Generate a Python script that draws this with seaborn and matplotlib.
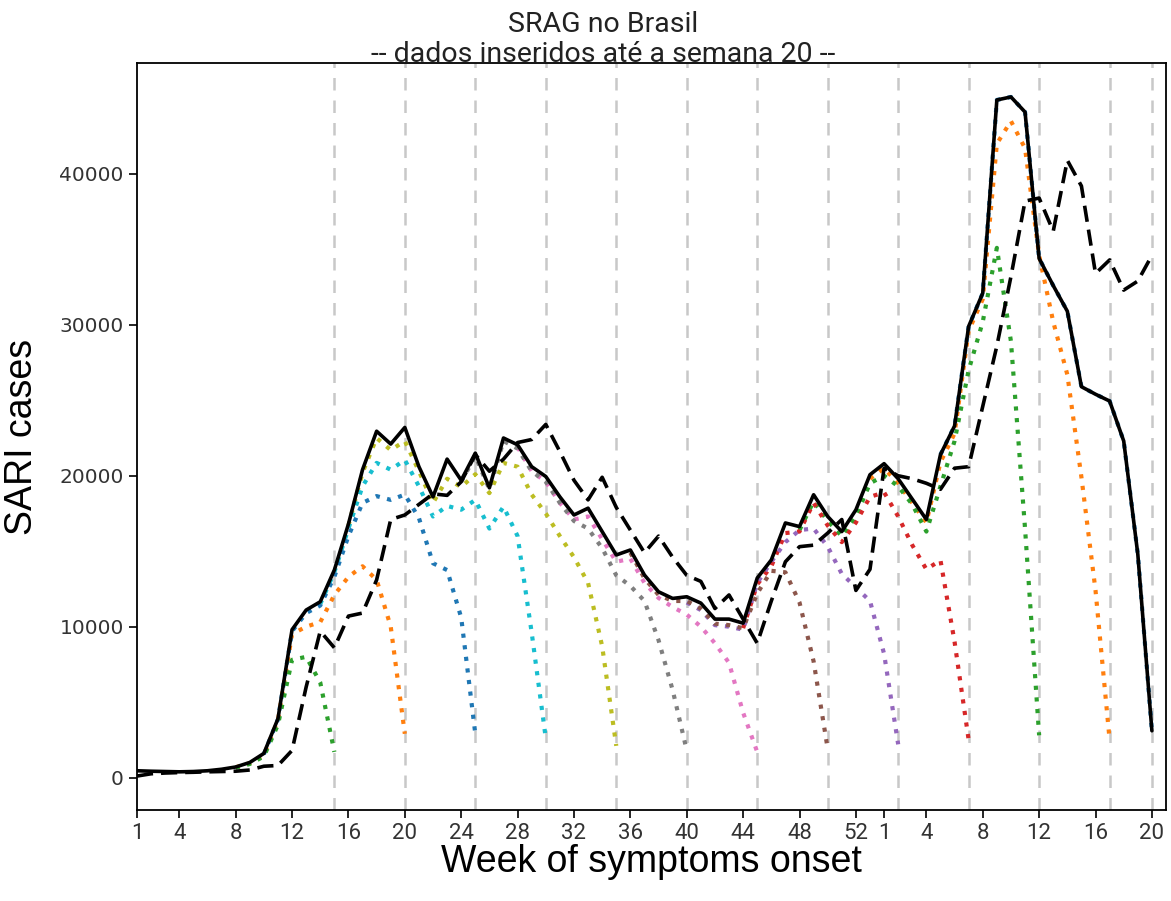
import matplotlib
matplotlib.use("Agg")
import matplotlib.pyplot as plt
import seaborn as sns
import pandas as pd
import numpy as np

# Epidemiological weeks: 2020 (weeks 1-53) followed by 2021 (weeks 1-20)
weeks_2020 = list(range(1, 54))
weeks_2021 = list(range(1, 21))
week_index = list(range(1, len(weeks_2020) + len(weeks_2021) + 1))

tick_positions = [1, 4, 8, 12, 16, 20, 24, 28, 32, 36, 40, 44, 48, 52, 54, 57, 61, 65, 69, 73]
tick_labels = ["1", "4", "8", "12", "16", "20", "24", "28", "32", "36", "40", "44", "48", "52",
               "1", "4", "8", "12", "16", "20"]

# SARI cases by week of symptoms onset, data inserted up to week 20/2021
cases_onset = [450, 420, 400, 380, 400, 450, 550, 700, 1000, 1600,
               3900, 9800, 11100, 11650, 13750, 16800, 20400, 22950, 22100, 23200,
               20600, 18600, 21100, 19700, 21500, 19200, 22500, 22050, 20600, 19950,
               18600, 17400, 17850, 16300, 14750, 15080, 13420, 12310, 11870, 11980,
               11560, 10500, 10500, 10230, 13220, 14420, 16870, 16630, 18740, 17300,
               16300, 17740, 20070, 20800, 19800, 18450, 17100, 21400, 23300, 29900,
               32100, 44900, 45100, 44100, 34400, 32600, 30900, 25900, 25400, 24950,
               22300, 14800, 3100]

# SARI cases by week of notification
cases_notification = [100, 250, 300, 330, 350, 380, 400, 420, 500, 750,
                      800, 1800, 6000, 9700, 8600, 10700, 10900, 13100, 17100, 17400,
                      18100, 18800, 18700, 19600, 21400, 20300, 21100, 22200, 22400, 23400,
                      21600, 19700, 18400, 19900, 17900, 16400, 14900, 16000, 14600, 13400,
                      13000, 11200, 12100, 10500, 8900, 11700, 14300, 15300, 15400, 16200,
                      17100, 12400, 13800, 20500, 20000, 19800, 19500, 19100, 20500, 20600,
                      24600, 28600, 33200, 38200, 38400, 36200, 40900, 39200, 33400, 34300,
                      32300, 32900, 34600]

# Snapshots of the onset series as inserted up to a given week (first week shown, values)
snap_w15_start, snap_w15 = 8, [650, 900, 1400, 3500, 7800, 8000, 6300, 1700]
snap_w20_start, snap_w20 = 8, [680, 950, 1500, 3800, 9500, 10000, 10300, 12100, 13300,
                               14000, 13100, 10000, 2900]
snap_w25_start, snap_w25 = 10, [1550, 3850, 9700, 10900, 11400, 13300, 16000, 18200, 18650,
                                18400, 18750, 17200, 14200, 13750, 10600, 2900]
snap_w30_start, snap_w30 = 14, [11500, 13600, 16500, 19300, 20850, 20400, 21050, 19300,
                                17300, 18000, 17750, 18400, 16500, 17950, 16000, 9600, 2600]
snap_w35_start, snap_w35 = 16, [16700, 20200, 22500, 21700, 22300, 20300, 18200, 19800,
                                19250, 20100, 18850, 20850, 20600, 18750, 17500, 16000,
                                14600, 12900, 8700, 2100]
snap_w40_start, snap_w40 = 24, [19600, 21300, 19100, 22300, 21800, 20300, 19600, 18200,
                                17000, 16500, 15200, 13400, 12700, 11700, 9100, 5800, 1800]
snap_w45_start, snap_w45 = 28, [21900, 20300, 19600, 18200, 17100, 17300, 15800, 14300,
                                14500, 12900, 11900, 11300, 10800, 10000, 8900, 7600, 4300, 1700]
snap_w50_start, snap_w50 = 36, [14900, 13200, 12100, 11700, 11700, 11200, 10200, 10100,
                                9900, 12200, 13700, 13600, 11600, 7700, 1900]
snap_w02_start, snap_w02 = 40, [11600, 11100, 10100, 10000, 9800, 12900, 14300, 15600,
                                16400, 16500, 15300, 13500, 12600, 11700, 8200, 2200]
snap_w07_start, snap_w07 = 44, [9900, 12800, 14000, 16200, 16300, 18200, 16700, 15600,
                                16900, 18600, 18900, 17300, 15400, 13800, 14400, 9000, 2500]
snap_w12_start, snap_w12 = 48, [16400, 18300, 17000, 16000, 17300, 19500, 20000, 19300,
                                18100, 16300, 19300, 22300, 27000, 30200, 35100, 28900,
                                16500, 2800]
snap_w17_start, snap_w17 = 53, [19800, 20500, 19500, 18200, 16900, 20900, 22800, 29600,
                                31700, 42000, 43500, 41700, 34600, 30200, 26700, 19900,
                                12400, 2500]
snap_w20b_start, snap_w20b = 58, [21400, 23300, 29900, 32100, 44900, 45100, 44100, 34400,
                                  32600, 30900, 25900, 25400, 24950, 22300, 14800, 3100]

# Latest snapshot first, so colours follow the default cycle from newest to oldest
snapshots = [
    (snap_w20b_start, snap_w20b), (snap_w17_start, snap_w17), (snap_w12_start, snap_w12),
    (snap_w07_start, snap_w07), (snap_w02_start, snap_w02), (snap_w50_start, snap_w50),
    (snap_w45_start, snap_w45), (snap_w40_start, snap_w40), (snap_w35_start, snap_w35),
    (snap_w30_start, snap_w30), (snap_w25_start, snap_w25), (snap_w20_start, snap_w20),
    (snap_w15_start, snap_w15),
]
snapshot_weeks = [15, 20, 25, 30, 35, 40, 45, 50, 55, 60, 65, 70, 73]

sns.set_style("ticks")
plt.rcParams["font.family"] = ["Roboto", "DejaVu Sans"]

fig = plt.figure(figsize=(11.71, 9.01), dpi=100)
ax = fig.add_axes([137 / 1171, 1 - 810 / 901, (1166 - 137) / 1171, (810 - 63) / 901])

palette = sns.color_palette("tab10", 10)

for w in snapshot_weeks:
    ax.axvline(w, color="#c8c8c8", linestyle=(0, (5, 4)), linewidth=1.8, zorder=1)

for i, (start, vals) in enumerate(snapshots):
    df_s = pd.DataFrame({"week": list(range(start, start + len(vals))), "cases": vals})
    sns.lineplot(data=df_s, x="week", y="cases", ax=ax, color=palette[i % 10],
                 linestyle=(0, (1, 1.8)), linewidth=3.0, zorder=2)

df = pd.DataFrame({"week": week_index, "onset": cases_onset, "notification": cases_notification})
sns.lineplot(data=df, x="week", y="notification", ax=ax, color="black",
             linestyle=(0, (4.5, 2.2)), linewidth=2.6, zorder=3)
sns.lineplot(data=df, x="week", y="onset", ax=ax, color="black",
             linestyle="-", linewidth=2.6, zorder=4)

ax.set_xlim(1, 74)
ax.set_xticks(tick_positions)
ax.set_xticklabels(tick_labels, fontsize=16, color="#333333", family=["Roboto"])
ax.set_yticks([0, 10000, 20000, 30000, 40000])
ax.set_yticklabels(["0", "10000", "20000", "30000", "40000"], fontsize=14.5,
                   color="#333333", family=["DejaVu Sans"])
ax.tick_params(axis="both", length=6, width=1.2, color="black", direction="out")

for side in ax.spines.values():
    side.set_linewidth(1.3)
    side.set_color("black")

ax.set_xlabel("Week of symptoms onset", fontsize=27, family=["Liberation Sans"],
              color="black", labelpad=0)
ax.set_ylabel("SARI cases", fontsize=27, family=["Liberation Sans"],
              color="black", labelpad=14)
fig.text(603 / 1171, 1 - 62 / 901, "SRAG no Brasil\n-- dados inseridos até a semana 20 --",
         fontsize=20.5, color="#222222", ha="center", va="baseline",
         multialignment="center", linespacing=1.15)

fig.savefig("out.png", dpi=100)
